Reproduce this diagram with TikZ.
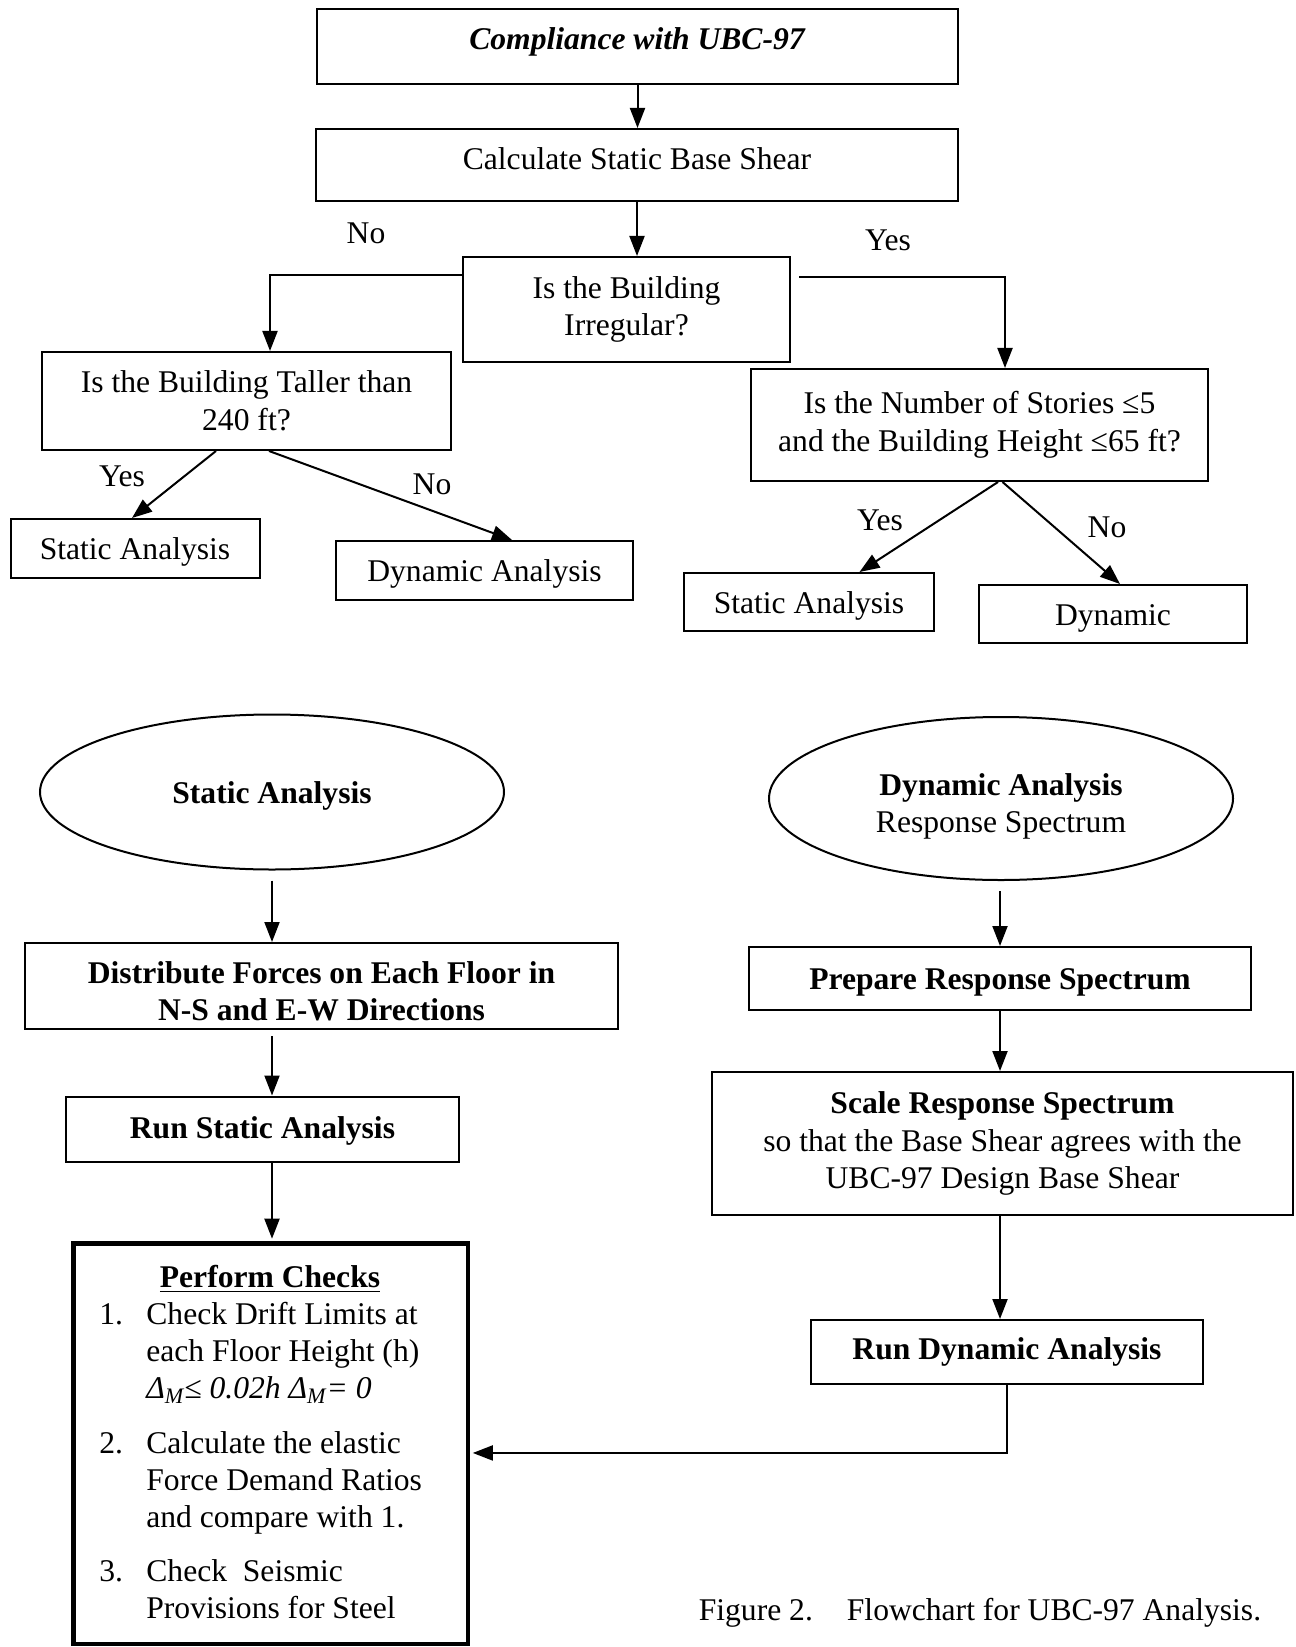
\documentclass[tikz,border=0pt]{standalone}
\usepackage{fontspec}
\setmainfont{Liberation Serif}
\usetikzlibrary{arrows.meta,shapes.geometric}
\begin{document}
\begin{tikzpicture}[x=0.5pt,y=-0.5pt,
  every node/.style={font=\fontsize{15.8pt}{18.8pt}\selectfont, inner sep=0pt},
  box/.style={draw, line width=1pt, align=center},
  oval/.style={draw, ellipse, line width=1pt, align=center},
  low/.style={text height=11pt, text depth=0pt},
  arr/.style={line width=1pt, -{Triangle[length=10pt,width=7.5pt]}}]
\useasboundingbox (0,0) rectangle (1295,1647);
% top part
\node[box, minimum width=320.5pt, minimum height=37.25pt, text height=10.9pt, text depth=7.7pt] (comp) at (637.5,46.7) {\textbf{\textit{Compliance with UBC-97}}};
\node[box, minimum width=321pt, minimum height=36pt, text height=10.9pt, text depth=6.5pt] (calc) at (637,165) {Calculate Static Base Shear};
\node[box, minimum width=163.5pt, minimum height=52.5pt] (irr) at (626.5,309.5) {Is the Building\\Irregular?};
\node[box, minimum width=204.5pt, minimum height=49pt] (tall) at (246.5,401) {Is the Building Taller than\\240 ft?};
\node[box, minimum width=228.5pt, minimum height=56pt] (stor) at (979.5,425) {Is the Number of Stories ≤5\\and the Building Height ≤65 ft?};
\node[box, low, minimum width=124.5pt, minimum height=29.5pt] (sl) at (135,548.5) {Static Analysis};
\node[box, low, minimum width=148.5pt, minimum height=29.5pt] (dl) at (484.5,570.5) {Dynamic Analysis};
\node[box, low, minimum width=125pt, minimum height=29pt] (sr) at (809,602) {Static Analysis};
\node[box, low, minimum width=134pt, minimum height=29pt] (dr) at (1113,614) {Dynamic};
% labels
\node (no1) at (366,233) {No};
\node (yes1) at (888,240) {Yes};
\node (yes2) at (122,476) {Yes};
\node (no2) at (432,484) {No};
\node (yes3) at (880,520) {Yes};
\node (no3) at (1107,527) {No};
% top connectors
\draw[arr] (comp.south) -- (comp.south |- calc.north);
\draw[arr] (calc.south) -- (calc.south |- irr.north);
\draw[arr] ([yshift=-9.5pt]irr.north west) -| ([xshift=11.75pt]tall.north);
\draw[arr, shorten <=4pt] ([yshift=-10.5pt]irr.north east) -| ([xshift=12.75pt]stor.north);
\draw[arr] ([xshift=-15.25pt]tall.south) -- ([xshift=-1.5pt]sl.north);
\draw[arr] ([xshift=11.25pt]tall.south) -- ([xshift=13.75pt]dl.north);
\draw[arr] ([xshift=9.25pt]stor.south) -- ([xshift=25.25pt]sr.north);
\draw[arr] ([xshift=11.5pt]stor.south) -- ([xshift=3.5pt]dr.north);
% bottom part
\node[oval, low, minimum width=232pt, minimum height=77.5pt] (eL) at (272,792) {\textbf{Static Analysis}};
\node[oval, minimum width=232pt, minimum height=81.5pt] (eR) at (1001,798.5) {};
\node[align=center] (eRt) at (1001,806.5) {\textbf{Dynamic Analysis}\\Response Spectrum};
\node[box, minimum width=296.5pt, minimum height=43pt] (dist) at (321.5,986) {};
\node[align=center] (distt) at (321.5,991.25) {\textbf{Distribute Forces on Each Floor in}\\\textbf{N-S and E-W Directions}};
\node[box, minimum width=196.5pt, minimum height=32.5pt, text height=11pt, text depth=1.5pt] (rs) at (262.5,1129) {\textbf{Run Static Analysis}};
\node[draw, line width=2.4pt, minimum width=197.25pt, minimum height=200.25pt] (pc) at (270.75,1443.75) {};
\node (pchead) at (270,1279) {\textbf{\underline{Perform Checks}}};
\node[anchor=north west, align=left, font=\fontsize{15.8pt}{18.6pt}\selectfont] (pclist) at (99,1301.5)
 {\makebox[23.5pt][l]{1.}Check Drift Limits at\\
  \hspace*{23.5pt}each Floor Height (h)\\
  \hspace*{23.5pt}\textit{Δ\textsubscript{M}≤ 0.02h Δ\textsubscript{M}= 0}\\[8.8pt]
  \makebox[23.5pt][l]{2.}Calculate the elastic\\
  \hspace*{23.5pt}Force Demand Ratios\\
  \hspace*{23.5pt}and compare with 1.\\[8.2pt]
  \makebox[23.5pt][l]{3.}Check\ \ Seismic\\
  \hspace*{23.5pt}Provisions for Steel};
\node[box, low, minimum width=251pt, minimum height=31.5pt] (prep) at (1000,978.5) {\textbf{Prepare Response Spectrum}};
\node[box, minimum width=290.5pt, minimum height=71.5pt] (scale) at (1002.5,1143.5) {\textbf{Scale Response Spectrum}\\so that the Base Shear agrees with the\\UBC-97 Design Base Shear};
\node[box, minimum width=196pt, minimum height=32pt] (rd) at (1007,1352) {\textbf{Run Dynamic Analysis}};
\node (cap) at (980,1613) {Figure 2.\hspace{17pt}Flowchart for UBC-97 Analysis.};
% bottom connectors
\draw[arr, shorten <=5pt] (eL.south) -- (eL.south |- dist.north);
\draw[arr, shorten <=3pt] (dist.south -| eL.south) -- (rs.north -| eL.south);
\draw[arr, shorten >=1.2pt] (rs.south -| eL.south) -- (pc.north -| eL.south);
\draw[arr, shorten <=5pt] (eR.south -| prep.south) -- (prep.north);
\draw[arr] (prep.south) -- (prep.south |- scale.north);
\draw[arr] (scale.south -| prep.south) -- (rd.north -| prep.south);
\draw[arr, shorten >=1.2pt] (rd.south) |- ([yshift=-4.6pt]pc.east);
\end{tikzpicture}
\end{document}
